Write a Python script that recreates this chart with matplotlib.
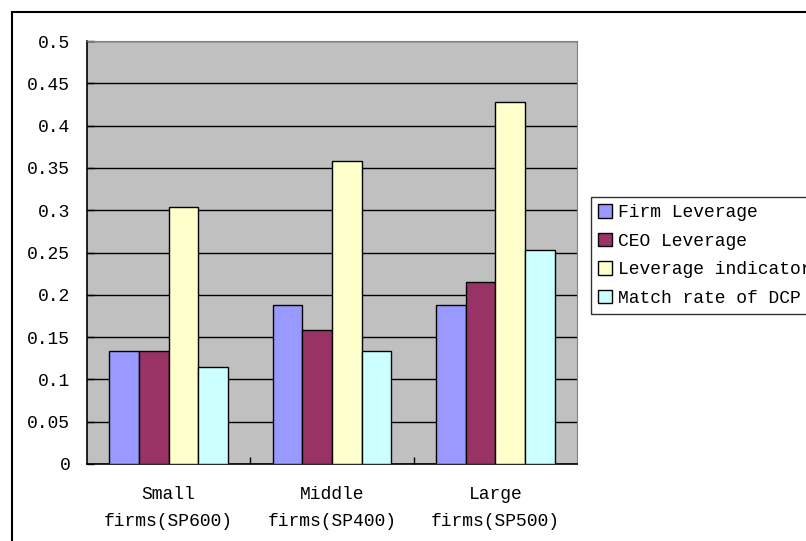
import numpy as np
import matplotlib.pyplot as plt
from matplotlib.patches import Rectangle

plt.rcParams['font.family'] = ['Liberation Mono', 'DejaVu Sans Mono']

categories = ['Small\nfirms(SP600)', 'Middle\nfirms(SP400)', 'Large\nfirms(SP500)']
series_names = ['Firm Leverage', 'CEO Leverage', 'Leverage indicator', 'Match rate of DCP']
firm_leverage = [0.134, 0.188, 0.188]
ceo_leverage = [0.134, 0.158, 0.215]
leverage_indicator = [0.304, 0.358, 0.428]
match_rate_dcp = [0.115, 0.134, 0.253]
yticks = [0, 0.05, 0.1, 0.15, 0.2, 0.25, 0.3, 0.35, 0.4, 0.45, 0.5]
ytick_labels = ['0', '0.05', '0.1', '0.15', '0.2', '0.25', '0.3', '0.35', '0.4', '0.45', '0.5']

colors = ['#9999FF', '#993366', '#FFFFCC', '#CCFFFF']
values = [firm_leverage, ceo_leverage, leverage_indicator, match_rate_dcp]

fig = plt.figure(figsize=(8.06, 5.41), dpi=100)
ax = fig.add_axes([87/806, 77/541, 490/806, 423/541])
ax.set_facecolor('#C0C0C0')

# excel style: gap width 150% between groups of 4 bars
bar_w = 1 / 5.5
x = np.arange(len(categories))
for i, (name, vals, c) in enumerate(zip(series_names, values, colors)):
    ax.bar(x - 2 * bar_w + (i + 0.5) * bar_w, vals, width=bar_w, color=c,
           edgecolor='black', linewidth=1.0, label=name, zorder=3)

ax.set_xlim(-0.5, 2.5)
ax.set_ylim(0, 0.5)
ax.set_yticks(yticks)
ax.set_yticklabels(ytick_labels)
ax.yaxis.grid(True, color='black', linewidth=1.0, zorder=1)
ax.set_axisbelow(True)

ax.set_xticks(x)
ax.set_xticklabels(categories, multialignment='center', linespacing=1.75)
ax.set_xticks([0.5, 1.5], minor=True)
ax.tick_params(axis='x', which='major', length=0, pad=16, labelsize=13)
ax.tick_params(axis='x', which='minor', direction='in', length=5, width=1)
ax.tick_params(axis='y', direction='in', length=5, width=1, pad=12, labelsize=13)

for side in ['top', 'right']:
    ax.spines[side].set_color('#808080')
for side in ['left', 'bottom']:
    ax.spines[side].set_color('black')
    ax.spines[side].set_linewidth(1.2)

leg = fig.legend(loc='upper left', bbox_to_anchor=(591/806, 1 - 197/541),
                 fontsize=13, frameon=True, fancybox=False, shadow=False,
                 handlelength=0.75, handleheight=0.75, handletextpad=0.35,
                 labelspacing=0.64, borderpad=0.4, borderaxespad=0)
leg.get_frame().set_edgecolor('black')
leg.get_frame().set_linewidth(1.0)

# chart area border
fig.patches.append(Rectangle((12/806, -0.1), 1.2, 1 - 12/541 + 0.1, transform=fig.transFigure,
                             fill=False, edgecolor='black', linewidth=1.5))

fig.savefig('out.png', dpi=100)
